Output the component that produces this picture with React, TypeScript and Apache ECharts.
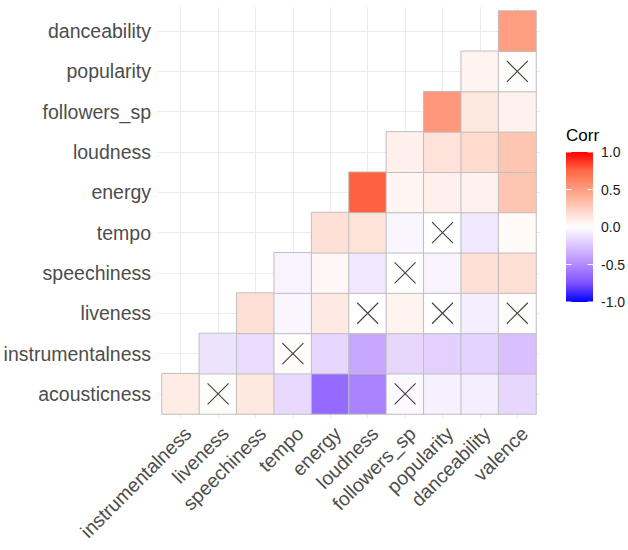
import React, { useEffect, useRef } from "react";
import * as echarts from "echarts";

// Column (x) and row (y, bottom to top) variable names
const xLabels = [
  "instrumentalness",
  "liveness",
  "speechiness",
  "tempo",
  "energy",
  "loudness",
  "followers_sp",
  "popularity",
  "danceability",
  "valence",
];
const yLabels = [
  "acousticness",
  "instrumentalness",
  "liveness",
  "speechiness",
  "tempo",
  "energy",
  "loudness",
  "followers_sp",
  "popularity",
  "danceability",
];

// Correlations per row; row i starts at column i (lower triangle)
const acousticness = [0.1, 0.01, 0.12, -0.16, -0.65, -0.54, -0.02, -0.06, -0.07, -0.17];
const instrumentalness = [-0.12, -0.15, 0.01, -0.17, -0.38, -0.17, -0.2, -0.19, -0.27];
const liveness = [0.16, -0.04, 0.11, 0.0, 0.06, 0.0, -0.07, 0.01];
const speechiness = [-0.05, 0.04, -0.1, 0.0, -0.05, 0.16, 0.17];
const tempo = [0.16, 0.15, -0.04, 0.0, -0.1, 0.03];
const energy = [0.77, 0.05, 0.08, 0.07, 0.3];
const loudness = [0.08, 0.15, 0.19, 0.3];
const followers_sp = [0.53, 0.12, 0.07];
const popularity = [0.06, 0.01];
const danceability = [0.5];

const rows = [
  acousticness,
  instrumentalness,
  liveness,
  speechiness,
  tempo,
  energy,
  loudness,
  followers_sp,
  popularity,
  danceability,
];

// Non-significant cells: [column, row]
const insignificant = [
  ["valence", "popularity"],
  ["popularity", "tempo"],
  ["followers_sp", "speechiness"],
  ["loudness", "liveness"],
  ["popularity", "liveness"],
  ["valence", "liveness"],
  ["tempo", "instrumentalness"],
  ["liveness", "acousticness"],
  ["followers_sp", "acousticness"],
];

// Legend ticks
const legendTicks = [1.0, 0.5, 0.0, -0.5, -1.0];
const legendTickLabels = ["1.0", "0.5", "0.0", "-0.5", "-1.0"];

// Colour ramp (blue - white - red, Lab-like interpolation), from -1 to 1
const ramp = [
  "#0000FF",
  "#7E52FF",
  "#B28BFF",
  "#DCC4FF",
  "#FFFFFF",
  "#FFCFBF",
  "#FF9E81",
  "#FF6846",
  "#FF0000",
];

const FONT = "'Liberation Sans', Arial, Helvetica, sans-serif";

export default function App() {
  const ref = useRef<HTMLDivElement>(null);

  useEffect(() => {
    document.body.style.margin = "0";
    if (!ref.current) return;
    const chart = echarts.init(ref.current, null, { renderer: "svg" });

    const heat: any[] = [];
    rows.forEach((vals, r) => {
      vals.forEach((v, j) => heat.push([r + j, r, v]));
    });

    // geometry
    const gl = 162, gt = 11, gw = 374, gh = 403;
    const cw = gw / 10, ch = gh / 10;
    const pad = 4;

    // legend geometry
    const barX = 566, barY = 152, barW = 27, barH = 150;
    const tickLen = barW / 5;
    const yOf = (v: number) => barY + ((1 - v) / 2) * barH;

    const graphics: any[] = [];
    graphics.push({
      type: "text",
      left: barX,
      top: barY - 25,
      style: { text: "Corr", font: `17px ${FONT}`, fill: "#000" },
    });
    graphics.push({
      type: "rect",
      shape: { x: barX, y: barY, width: barW, height: barH },
      style: {
        fill: new echarts.graphic.LinearGradient(
          0, 0, 0, 1,
          ramp.slice().reverse().map((c, i) => ({ offset: i / (ramp.length - 1), color: c }))
        ),
      },
    });
    legendTicks.forEach((v, i) => {
      const y = yOf(v);
      graphics.push({
        type: "line",
        shape: { x1: barX, y1: y, x2: barX + tickLen, y2: y },
        style: { stroke: "#fff", lineWidth: 1 },
      });
      graphics.push({
        type: "line",
        shape: { x1: barX + barW - tickLen, y1: y, x2: barX + barW, y2: y },
        style: { stroke: "#fff", lineWidth: 1 },
      });
      graphics.push({
        type: "text",
        x: 601,
        y,
        style: {
          text: legendTickLabels[i],
          font: `14px ${FONT}`,
          fill: "#1A1A1A",
          verticalAlign: "middle",
          align: "left",
        },
      });
    });

    const gridLine = { color: "#EBEBEB", width: 1 };

    chart.setOption({
      animation: false,
      backgroundColor: "#fff",
      grid: [
        { left: gl, top: gt, width: gw, height: gh },
        // vertical grid lines (column centres), spanning the padded panel
        { left: gl + cw / 2, top: gt - pad, width: gw - cw, height: gh + 2 * pad },
        // horizontal grid lines (row centres)
        { left: gl - pad, top: gt + ch / 2, width: gw + 2 * pad, height: gh - ch },
      ],
      xAxis: [
        {
          type: "category",
          gridIndex: 0,
          data: xLabels,
          axisLine: { show: false },
          axisTick: { show: false },
          splitLine: { show: false },
          axisLabel: {
            interval: 0,
            rotate: 45,
            align: "right",
            verticalAlign: "top",
            margin: 9,
            fontSize: 19.5,
            fontFamily: FONT,
            color: "#4D4D4D",
          },
        },
        {
          type: "value",
          gridIndex: 1,
          min: 0,
          max: 9,
          interval: 1,
          axisLine: { show: false },
          axisTick: { show: false },
          axisLabel: { show: false },
          splitLine: { show: true, lineStyle: gridLine },
        },
        { type: "value", gridIndex: 2, show: false, min: 0, max: 1 },
      ],
      yAxis: [
        {
          type: "category",
          gridIndex: 0,
          data: yLabels,
          axisLine: { show: false },
          axisTick: { show: false },
          splitLine: { show: false },
          axisLabel: {
            interval: 0,
            margin: 11,
            fontSize: 19.5,
            fontFamily: FONT,
            color: "#4D4D4D",
          },
        },
        { type: "value", gridIndex: 1, show: false, min: 0, max: 1 },
        {
          type: "value",
          gridIndex: 2,
          min: 0,
          max: 9,
          interval: 1,
          axisLine: { show: false },
          axisTick: { show: false },
          axisLabel: { show: false },
          splitLine: { show: true, lineStyle: gridLine },
        },
      ],
      visualMap: {
        show: false,
        type: "continuous",
        min: -1,
        max: 1,
        seriesIndex: 0,
        dimension: 2,
        inRange: { color: ramp },
      },
      graphic: graphics,
      series: [
        {
          type: "heatmap",
          xAxisIndex: 0,
          yAxisIndex: 0,
          data: heat,
          z: 2,
          itemStyle: { borderColor: "#BEBEBE", borderWidth: 1 },
          emphasis: { disabled: true },
          label: { show: false },
        },
        {
          type: "scatter",
          xAxisIndex: 0,
          yAxisIndex: 0,
          data: insignificant,
          z: 3,
          symbol: "path://M0 0L10 10M10 0L0 10",
          symbolSize: 21,
          itemStyle: { color: "rgba(0,0,0,0)", borderColor: "#111", borderWidth: 1.1 },
          emphasis: { disabled: true },
          silent: true,
        },
      ],
    });

    return () => chart.dispose();
  }, []);

  return <div ref={ref} style={{ width: 628, height: 550 }} />;
}
